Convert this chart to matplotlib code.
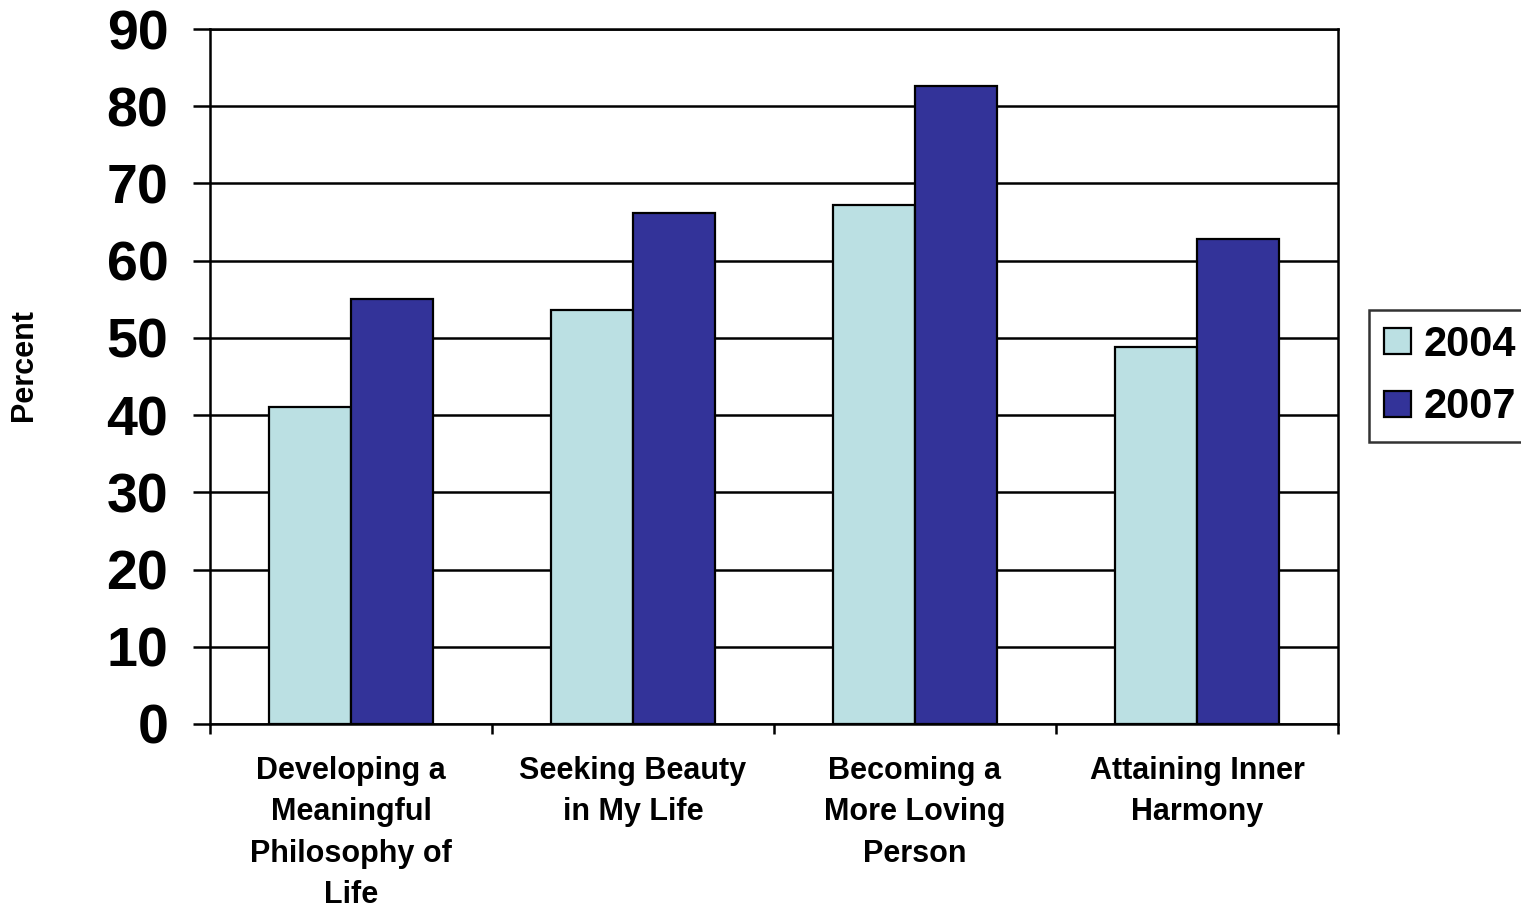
import matplotlib
matplotlib.use("Agg")
import matplotlib.pyplot as plt
import numpy as np

categories = ["Developing a\nMeaningful\nPhilosophy of\nLife",
              "Seeking Beauty\nin My Life",
              "Becoming a\nMore Loving\nPerson",
              "Attaining Inner\nHarmony"]
series_names = ["2004", "2007"]
values_2004 = [41.0, 53.6, 67.2, 48.8]
values_2007 = [55.1, 66.2, 82.6, 62.8]
yticks = [0, 10, 20, 30, 40, 50, 60, 70, 80, 90]

plt.rcParams['font.family'] = ['Liberation Sans', 'DejaVu Sans']
plt.rcParams['font.weight'] = 'bold'

W, H = 1521, 910
fig = plt.figure(figsize=(W / 100, H / 100), dpi=100)
ax = fig.add_axes([210 / W, 1 - 724 / H, (1338 - 210) / W, (724 - 29) / H])

x = np.arange(len(categories))
bw = 0.29
ax.bar(x - bw / 2, values_2004, bw, color="#BBE0E3", edgecolor="black", linewidth=1.6,
       label=series_names[0], zorder=3)
ax.bar(x + bw / 2, values_2007, bw, color="#333399", edgecolor="black", linewidth=1.6,
       label=series_names[1], zorder=3)

ax.set_xlim(-0.5, len(categories) - 0.5)
ax.set_ylim(0, 90)
ax.set_yticks(yticks)
ax.set_yticklabels([str(v) for v in yticks], fontsize=40, fontweight='bold')
ax.yaxis.grid(True, color="black", linewidth=1.8, zorder=0)
ax.set_axisbelow(True)
ax.tick_params(axis='y', length=12, width=1.8, pad=18, direction='out')

ax.set_xticks(x)
ax.set_xticklabels(categories, fontsize=22, fontweight='bold', linespacing=1.5)
ax.tick_params(axis='x', which='major', length=0, pad=23)
ax.set_xticks(np.arange(-0.5, len(categories), 1.0), minor=True)
ax.tick_params(axis='x', which='minor', length=7, width=1.8, direction='out')

for s in ax.spines.values():
    s.set_color("black")
    s.set_linewidth(1.8)

fig.text(24 / W, 1 - 365 / H, "Percent", rotation=90, fontsize=22, fontweight='bold',
         ha='center', va='center')

leg = ax.legend(loc='upper left', bbox_to_anchor=(1369 / W, 1 - 310 / H),
                bbox_transform=fig.transFigure, frameon=True,
                fancybox=False, handlelength=0.65, handleheight=0.6,
                handletextpad=0.3, labelspacing=0.55, borderpad=0.35,
                borderaxespad=0, prop={'weight': 'bold', 'size': 30})
leg.get_frame().set_edgecolor("black")
leg.get_frame().set_linewidth(1.8)

fig.savefig("out.png", dpi=100, facecolor="white")
